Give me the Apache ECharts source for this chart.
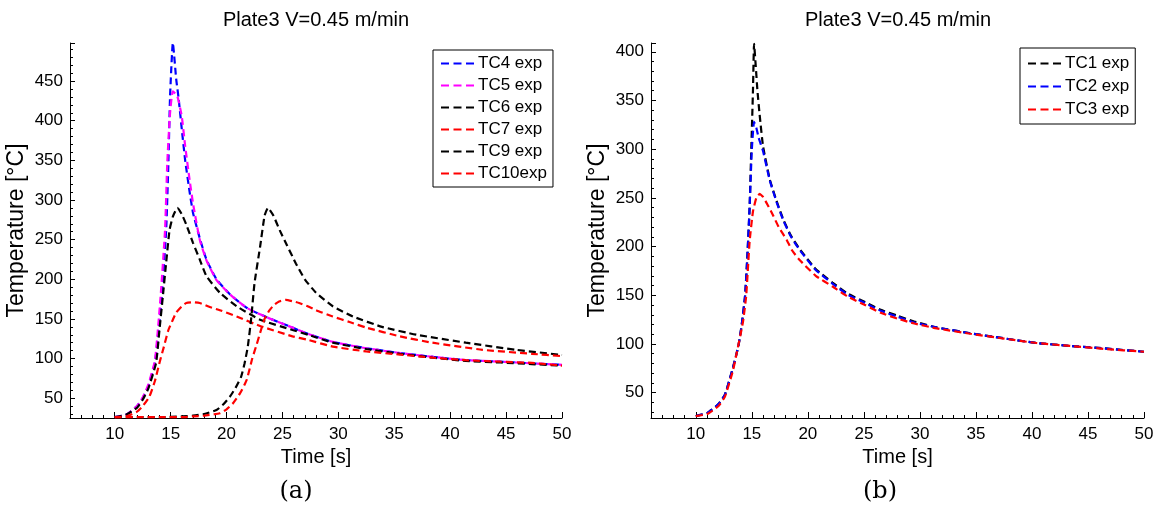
<!DOCTYPE html>
<html>
<head>
<meta charset="utf-8">
<script src="https://cdn.jsdelivr.net/npm/echarts@6/dist/echarts.min.js"></script>
<style>
html,body{margin:0;padding:0;background:#fff;}
#c{width:1160px;height:513px;}
</style>
</head>
<body>
<div id="c"></div>
<script>
// ---------- DATA (time [s], temperature [°C]) ----------
const titleText = 'Plate3 V=0.45 m/min';
const xTickLabels = [10, 15, 20, 25, 30, 35, 40, 45, 50];

// Panel (a)
const tc4T = [10, 11, 12, 12.5, 13, 13.6, 14.2, 14.6, 14.8, 14.95, 15.2, 15.5, 15.7, 16.0, 16.3, 16.7, 17.0, 17.6, 18.2, 19.1, 20.3, 21.8, 23.6, 25.9, 27.3, 29.5, 32.5, 35.5, 38.5, 41.4, 44.5, 47.3, 50];
const tc4V = [26, 29, 40, 50, 65, 95, 178, 262, 347, 431, 498, 452, 430, 389, 350, 310, 284, 252, 225, 200, 181, 164, 152, 139, 131, 121, 113, 107, 102, 98, 96, 94, 92];

const tc5T = [10, 11, 12, 12.5, 13, 13.6, 14.1, 14.5, 14.7, 14.95, 15.2, 15.6, 16.0, 16.3, 16.7, 17.0, 17.6, 18.2, 19.1, 20.3, 21.8, 23.6, 25.9, 27.3, 29.5, 32.5, 35.5, 38.5, 41.4, 44.5, 47.3, 50];
const tc5V = [26, 29, 40, 51, 67, 98, 178, 262, 347, 410, 437, 431, 405, 368, 325, 296, 250, 224, 199, 181, 164, 152, 139, 131, 121, 113, 107, 102, 98, 96, 94, 92];

const tc6T = [10, 11, 12, 12.5, 13, 13.7, 14.0, 14.3, 14.6, 14.9, 15.2, 15.6, 16.0, 16.4, 17.0, 17.6, 18.2, 19.4, 20.9, 23.0, 25.9, 27.3, 29.5, 32.5, 35.5, 38.5, 41.4, 44.5, 47.3, 50];
const tc6V = [26, 29, 38, 48, 62, 94.5, 136, 178, 221, 262, 279, 290, 282, 269, 246, 225, 204, 183, 166, 149, 136, 130, 120, 112, 106, 101, 97, 95, 93, 91];

const tc7T = [10, 11, 12, 12.5, 13.1, 13.6, 14.0, 14.4, 14.8, 15.2, 15.5, 16.0, 16.4, 17.0, 17.6, 18.5, 19.4, 20.9, 23.0, 25.9, 27.3, 29.5, 32.5, 35.5, 38.5, 41.4, 44.5, 47.3, 50];
const tc7V = [26, 27, 33, 40, 52, 72, 94.5, 115, 136, 149, 158, 166, 170, 171, 170, 165, 161, 153, 141, 128, 123.5, 115, 109, 105, 101, 98, 96, 94.5, 91];

const tc9T = [10, 12, 14, 16, 17, 18, 19.1, 19.7, 20.3, 20.8, 21.3, 21.6, 21.9, 22.2, 22.5, 23.0, 23.4, 23.7, 24.2, 24.75, 25.4, 26.2, 27.0, 28.0, 29.5, 31.3, 33.9, 37, 41.4, 45.9, 50];
const tc9V = [26, 26, 26, 27, 28, 30, 35, 42, 52, 63, 77, 93, 115, 150, 195, 241, 280, 290, 280, 262, 243, 220, 200, 183, 166, 153, 140, 130, 120, 111, 104.5];

const tc10T = [10, 12, 14, 16, 17, 18, 19.4, 20.0, 20.6, 21.2, 21.8, 22.3, 22.7, 23.1, 23.4, 23.8, 24.2, 24.7, 25.3, 26.0, 26.5, 27.25, 28.0, 29.5, 31.0, 32.5, 35.5, 38.4, 42.9, 47.3, 50];
const tc10V = [26, 26, 26, 26, 27, 28, 31, 36, 44, 56, 73, 100, 118, 137, 150, 160, 167, 172, 174, 172, 170, 166, 161, 153, 146, 139, 128, 120, 111, 106, 103];

// Panel (b)
const tc1T = [10, 11, 12, 12.6, 13.3, 13.8, 14.1, 14.4, 14.6, 14.8, 14.95, 15.1, 15.2, 15.35, 15.5, 15.7, 16.0, 16.6, 17.2, 17.8, 18.5, 19.3, 20.7, 22.2, 23.5, 25.1, 26.5, 28.0, 29.5, 31.5, 34.5, 37.5, 40.4, 43.4, 46.4, 50];
const tc1V = [26, 29, 38, 48, 75, 98, 120, 150, 190, 240, 300, 360, 408, 385, 360, 335, 303, 269, 247, 228, 211, 197, 177, 163, 152, 143, 135, 129, 123, 117, 111, 105.8, 101, 98, 95.5, 92];

const tc2T = [10, 11, 12, 12.6, 13.3, 13.8, 14.1, 14.4, 14.6, 14.8, 15.0, 15.2, 15.4, 15.6, 15.8, 16.0, 16.6, 17.2, 17.8, 18.5, 19.3, 20.7, 22.2, 23.5, 25.1, 26.5, 28.0, 29.5, 31.5, 34.5, 37.5, 40.4, 43.4, 46.4, 50];
const tc2V = [26, 29, 38, 48, 75, 98, 120, 150, 190, 240, 300, 328, 322, 312, 305, 298, 268, 246, 227, 210, 196, 176, 162, 151, 142, 134, 128, 122, 117, 111, 105.8, 101, 98, 95.5, 92];

const tc3T = [10, 11, 12, 12.6, 13.3, 13.6, 14.2, 14.5, 14.8, 15.1, 15.4, 15.7, 16.0, 16.4, 16.9, 17.4, 18.1, 18.6, 19.2, 20.7, 22.2, 23.5, 25.1, 26.5, 28.0, 29.5, 31.5, 34.5, 37.5, 40.4, 43.4, 46.4, 50];
const tc3V = [26, 28, 36, 46, 72, 88, 122, 150, 205, 236, 250, 254, 251, 243, 232, 220, 207, 196, 187, 170, 159, 149, 140, 132, 126, 121, 116, 110.5, 105.5, 101, 98, 95, 92];

// ---------- CHART ----------
const pairs = (ts, vs) => ts.map((t, i) => [t, vs[i]]);
const FONT = 'Liberation Sans';
const chart = echarts.init(document.getElementById('c'), null, {renderer: 'canvas'});

const grids = [
  {left: 70, top: 43, width: 492, height: 375},
  {left: 651, top: 43, width: 493, height: 375}
];
const yRange = [[25, 498], [24, 409]];

const xAxes = [], yAxes = [];
[0, 1].forEach(g => {
  xAxes.push({
    type: 'value', gridIndex: g, position: 'bottom', min: 6, max: 50,
    minInterval: 5, maxInterval: 5,
    axisLine: {show: true, onZero: false, lineStyle: {color: '#000', width: 1}},
    axisTick: {show: true, inside: true, length: 6, lineStyle: {color: '#000'}},
    splitLine: {show: false},
    axisLabel: {color: '#000', fontFamily: FONT, fontSize: 17, margin: 8,
      formatter: v => (xTickLabels.indexOf(v) >= 0 ? String(v) : '')},
    name: 'Time [s]', nameLocation: 'middle', nameGap: 25,
    nameTextStyle: {color: '#000', fontFamily: FONT, fontSize: 20}
  });
  xAxes.push({
    type: 'value', gridIndex: g, position: 'bottom', min: 6, max: 50,
    minInterval: 1, maxInterval: 1,
    axisLine: {show: false}, axisLabel: {show: false}, splitLine: {show: false},
    axisTick: {show: true, inside: true, length: 3, lineStyle: {color: '#000'}}
  });
  yAxes.push({
    type: 'value', gridIndex: g, position: 'left', min: yRange[g][0], max: yRange[g][1],
    minInterval: 50, maxInterval: 50,
    axisLine: {show: true, onZero: false, lineStyle: {color: '#000', width: 1}},
    axisTick: {show: true, inside: true, length: 5, lineStyle: {color: '#000'}},
    splitLine: {show: false},
    axisLabel: {color: '#000', fontFamily: FONT, fontSize: 17, margin: 7,
      formatter: v => (v % 50 === 0 ? String(v) : '')},
    name: 'Temperature [°C]', nameLocation: 'middle', nameGap: 42, nameRotate: 90,
    nameTextStyle: {color: '#000', fontFamily: FONT, fontSize: 23}
  });
  yAxes.push({
    type: 'value', gridIndex: g, position: 'left', min: yRange[g][0], max: yRange[g][1],
    minInterval: 10, maxInterval: 10,
    axisLine: {show: false}, axisLabel: {show: false}, splitLine: {show: false},
    axisTick: {show: true, inside: true, length: 3, lineStyle: {color: '#000'}}
  });
});

function mk(name, ts, vs, color, g) {
  return {
    name: name, type: 'line', xAxisIndex: g * 2, yAxisIndex: g * 2,
    data: pairs(ts, vs), symbol: 'none', showSymbol: false, smooth: 0.15,
    lineStyle: {color: color, width: 2.2, type: [7, 4]},
    itemStyle: {color: color}, z: 3
  };
}

const series = [
  mk('TC4 exp', tc4T, tc4V, '#0000ff', 0),
  mk('TC5 exp', tc5T, tc5V, '#ff00ff', 0),
  mk('TC6 exp', tc6T, tc6V, '#000000', 0),
  mk('TC7 exp', tc7T, tc7V, '#ff0000', 0),
  mk('TC9 exp', tc9T, tc9V, '#000000', 0),
  mk('TC10exp', tc10T, tc10V, '#ff0000', 0),
  mk('TC1 exp', tc1T, tc1V, '#000000', 1),
  mk('TC2 exp', tc2T, tc2V, '#0000ff', 1),
  mk('TC3 exp', tc3T, tc3V, '#ff0000', 1)
];

const legendCommon = {
  orient: 'vertical', backgroundColor: '#fff', borderColor: '#000', borderWidth: 1,
  borderRadius: 0, padding: [5, 6, 5, 8], itemGap: 5, itemWidth: 33, itemHeight: 2,
  icon: 'path://M0,0h8v2h-8zM12.5,0h8v2h-8zM25,0h8v2h-8z',
  selectedMode: false,
  textStyle: {color: '#000', fontFamily: FONT, fontSize: 17, padding: [0, 0, 0, -1], lineHeight: 17}
};

chart.setOption({
  animation: false,
  backgroundColor: '#fff',
  grid: grids,
  xAxis: xAxes,
  yAxis: yAxes,
  legend: [
    Object.assign({}, legendCommon, {left: 433, top: 50,
      data: ['TC4 exp', 'TC5 exp', 'TC6 exp', 'TC7 exp', 'TC9 exp', 'TC10exp']}),
    Object.assign({}, legendCommon, {left: 1020, top: 48, padding: [7, 6, 6, 8], itemGap: 6,
      data: ['TC1 exp', 'TC2 exp', 'TC3 exp']})
  ],
  graphic: [
    {type: 'text', x: 316, y: 20, style: {text: titleText, fill: '#000', font: '20px "Liberation Sans"', textAlign: 'center', textVerticalAlign: 'middle'}},
    {type: 'text', x: 898, y: 20, style: {text: titleText, fill: '#000', font: '20px "Liberation Sans"', textAlign: 'center', textVerticalAlign: 'middle'}},
    {type: 'text', x: 296, y: 492, style: {text: '(a)', fill: '#000', font: '24px "DejaVu Serif"', textAlign: 'center', textVerticalAlign: 'middle'}},
    {type: 'text', x: 880, y: 492, style: {text: '(b)', fill: '#000', font: '24px "DejaVu Serif"', textAlign: 'center', textVerticalAlign: 'middle'}}
  ],
  series: series
});
</script>
</body>
</html>
